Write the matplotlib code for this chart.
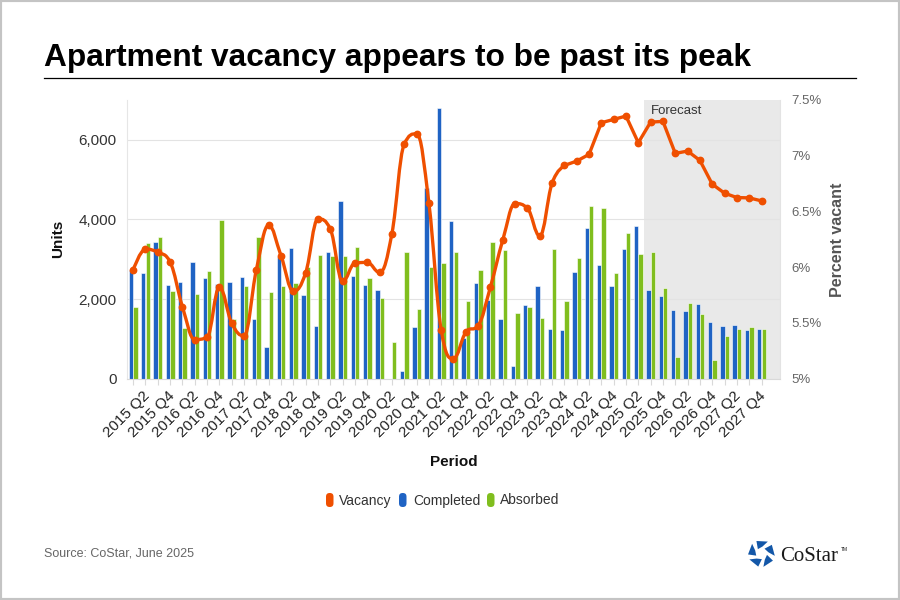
import numpy as np
import matplotlib
matplotlib.use("Agg")
import matplotlib.pyplot as plt
from matplotlib.path import Path
from matplotlib.patches import PathPatch, FancyBboxPatch, Polygon, Rectangle
from matplotlib.lines import Line2D
import matplotlib.transforms as mtransforms

plt.rcParams['font.family'] = ['Liberation Sans', 'DejaVu Sans']

# ---------------- data ----------------
periods = [f"{y} Q{q}" for y in range(2015, 2028) for q in range(1, 5)]

completed = [2730, 2660, 3440, 2350, 2440, 2930, 2540, 2390, 2430, 2560,
             1500, 790, 3060, 3280, 2100, 1330, 3180, 4460, 2580, 2350,
             2220, 0, 200, 1310, 4780, 6790, 3950, 1010, 2400, 1980,
             1490, 330, 1840, 2340, 1260, 1230, 2680, 3780, 2860, 2340,
             3260, 3830, 2220, 2080, 1720, 1700, 1870, 1420, 1330, 1340,
             1230, 1260]

absorbed = [1810, 3410, 3570, 2200, 1280, 2130, 2700, 3980, 1500, 2330,
            3570, 2170, 2330, 2400, 2800, 3110, 3090, 3070, 3300, 2530,
            2020, 930, 3190, 1740, 2800, 2900, 3190, 1960, 2730, 3430,
            3240, 1640, 1800, 1520, 3250, 1950, 3040, 4340, 4290, 2650,
            3650, 3130, 3180, 2280, 550, 1890, 1630, 480, 1060, 1260,
            1300, 1240]

vacancy = [5.975, 6.163, 6.133, 6.046, 5.645, 5.351, 5.372, 5.821, 5.498, 5.384,
           5.977, 6.376, 6.103, 5.785, 5.950, 6.433, 6.343, 5.872, 6.037, 6.043,
           5.953, 6.301, 7.104, 7.197, 6.577, 5.438, 5.180, 5.417, 5.477, 5.824,
           6.244, 6.571, 6.529, 6.280, 6.754, 6.913, 6.952, 7.012, 7.296, 7.326,
           7.356, 7.117, 7.302, 7.308, 7.021, 7.042, 6.958, 6.745, 6.664, 6.625,
           6.622, 6.595]

spline_end = 35          # smoothed section ends at this index
forecast_start = 42      # 2025 Q3

left_ticks = [0, 2000, 4000, 6000]
right_ticks = [5, 5.5, 6, 6.5, 7, 7.5]
right_labels = ["5%", "5.5%", "6%", "6.5%", "7%", "7.5%"]

ORANGE = "#EF4F00"
BLUE = "#1F63C4"
GREEN = "#80BE1E"

# ---------------- figure ----------------
W, H = 900, 600
fig = plt.figure(figsize=(9, 6), dpi=100)
fig.patch.set_facecolor("white")

def fx(px):
    return px / W

def fy(py):
    return 1 - py / H

L, R, T, B = 127, 780, 100, 378.7
ax = fig.add_axes([fx(L), fy(B), (R - L) / W, (B - T) / H])
n = len(periods)
x = np.arange(n)

ax.set_xlim(-0.5, n + 0.5)
ax.set_ylim(0, 7000)

ax.axvspan(forecast_start - 0.5, n + 0.5, color="#e9e9e9", zorder=0.1, lw=0)

bw = 0.355
ax.bar(x - 0.18, completed, width=bw, color=BLUE, edgecolor="white", linewidth=0.4, zorder=2)
ax.bar(x + 0.18, absorbed, width=bw, color=GREEN, edgecolor="white", linewidth=0.4, zorder=2)

ax.set_axisbelow(True)
ax.set_yticks(left_ticks)
ax.set_yticklabels([f"{v:,}" for v in left_ticks])
ax.grid(axis="y", color="#e3e3e3", lw=0.8)
ax.tick_params(axis="y", length=0, pad=7.5, labelsize=11, labelcolor="#333333")

ax.set_xticks(x)
ax.set_xticklabels([p if i % 2 == 1 else "" for i, p in enumerate(periods)],
                   rotation=45, ha="right", va="top", rotation_mode="anchor")
ax.tick_params(axis="x", length=4.5, width=0.8, color="#d9d9d9", pad=3.0,
               labelsize=11, labelcolor="#222222")
off = mtransforms.ScaledTranslation(-3 / 100, 0, fig.dpi_scale_trans)
for lab in ax.get_xticklabels():
    lab.set_transform(lab.get_transform() + off)

ax.spines["top"].set_visible(False)
ax.spines["left"].set_color("#e6e6e6")
ax.spines["left"].set_linewidth(0.8)
ax.spines["right"].set_color("#e3e3e3")
ax.spines["right"].set_linewidth(0.8)
ax.spines["bottom"].set_color("#d9d9d9")
ax.spines["bottom"].set_linewidth(0.8)

ax.set_ylabel("Units", fontsize=11, fontweight="bold", color="#111111", ha="center", va="center")
ax.yaxis.set_label_coords((58 - L) / (R - L), 0.5)
ax.set_xlabel("Period", fontsize=11, fontweight="bold", color="#111111", ha="center", va="center")
ax.xaxis.set_label_coords(0.5, (B - 462) / (B - T))

ax.text(forecast_start - 0.5, 1, "Forecast",
        transform=mtransforms.blended_transform_factory(ax.transData, ax.transAxes)
        + mtransforms.ScaledTranslation(6 / 100, -5 / 100, fig.dpi_scale_trans),
        ha="left", va="top", fontsize=9.5, color="#333333", zorder=3)

# ---------------- vacancy line ----------------
ax2 = ax.twinx()
ax2.set_ylim(5, 7.5)
ax2.set_yticks(right_ticks)
ax2.set_yticklabels(right_labels)
ax2.tick_params(axis="y", length=0, pad=8, labelsize=9.5, labelcolor="#666666")
for s in ax2.spines.values():
    s.set_visible(False)
ax2.set_ylabel("Percent vacant", fontsize=11.5, fontweight="bold", color="#555555",
               ha="center", va="center", rotation=90)
ax2.yaxis.set_label_coords((838 - L) / (R - L), 0.5)

# Highcharts-style spline (control points in data space; the scheme is affine-invariant)
sp_x = [float(i) for i in range(spline_end + 1)]
sp_y = list(vacancy[:spline_end + 1])
smoothing = 1.5
denom = smoothing + 1
m = len(sp_x)
lc = [None] * m
rc = [None] * m
for i in range(1, m - 1):
    px, py = sp_x[i], sp_y[i]
    lx, ly = sp_x[i - 1], sp_y[i - 1]
    nx, ny = sp_x[i + 1], sp_y[i + 1]
    lcx = (smoothing * px + lx) / denom
    lcy = (smoothing * py + ly) / denom
    rcx = (smoothing * px + nx) / denom
    rcy = (smoothing * py + ny) / denom
    corr = 0.0
    if rcx != lcx:
        corr = (rcy - lcy) * (rcx - px) / (rcx - lcx) + py - rcy
    lcy += corr
    rcy += corr
    if lcy > ly and lcy > py:
        lcy = max(ly, py)
        rcy = 2 * py - lcy
    elif lcy < ly and lcy < py:
        lcy = min(ly, py)
        rcy = 2 * py - lcy
    if rcy > ny and rcy > py:
        rcy = max(ny, py)
        lcy = 2 * py - rcy
    elif rcy < ny and rcy < py:
        rcy = min(ny, py)
        lcy = 2 * py - rcy
    lc[i] = (lcx, lcy)
    rc[i] = (rcx, rcy)

verts = [(sp_x[0], sp_y[0])]
codes = [Path.MOVETO]
for i in range(1, m):
    c1 = rc[i - 1] if rc[i - 1] is not None else (sp_x[i - 1], sp_y[i - 1])
    c2 = lc[i] if lc[i] is not None else (sp_x[i], sp_y[i])
    verts += [c1, c2, (sp_x[i], sp_y[i])]
    codes += [Path.CURVE4] * 3

lw_line = 2.4
ax2.add_patch(PathPatch(Path(verts, codes), fill=False, edgecolor=ORANGE, lw=lw_line,
                        capstyle="round", joinstyle="round", zorder=4))
ax2.plot(x[spline_end:], vacancy[spline_end:], color=ORANGE, lw=lw_line,
         solid_joinstyle="round", solid_capstyle="round", zorder=4)
ax2.plot(x, vacancy, "o", color=ORANGE, markersize=4.6, zorder=5)
ax2.set_xlim(-0.5, n + 0.5)

# ---------------- title, legend, source ----------------
fig.text(fx(44), fy(65.7), "Apartment vacancy appears to be past its peak",
         fontsize=22.8, fontweight="bold", color="black", ha="left", va="baseline")
fig.add_artist(Line2D([fx(44), fx(856)], [fy(78.3), fy(78.3)], color="black", lw=0.9))

leg = [("Vacancy", ORANGE, 326, 339.4), ("Completed", BLUE, 399, 412.9), ("Absorbed", GREEN, 487, 500.2)]
for name, col, mx, tx in leg:
    fig.add_artist(FancyBboxPatch((fx(mx), fy(507)), 7.5 / W, 14 / H,
                                  boxstyle="round,pad=0,rounding_size=0.004",
                                  transform=fig.transFigure, facecolor=col, edgecolor="none",
                                  mutation_aspect=W / H))
    fig.text(fx(tx), fy(500.5), name, fontsize=10, color="#333333", ha="left", va="center")

fig.text(fx(44), fy(557), "Source: CoStar, June 2025", fontsize=9, color="#666666",
         ha="left", va="baseline")

# logo
lax = fig.add_axes([fx(748), fy(567), 27 / W, 27 / H])
lax.set_xlim(-1, 1)
lax.set_ylim(-1, 1)
lax.set_aspect("equal")
lax.axis("off")
for k in range(5):
    th = np.deg2rad(90 + 72 * k)
    def pol(r, d):
        a = th + np.deg2rad(d)
        return (r * np.cos(a), r * np.sin(a))
    poly = [pol(1.0, -28), pol(1.0, 22), pol(0.42, 40), pol(0.52, -8)]
    lax.add_patch(Polygon(poly, closed=True, facecolor="#1357A8", edgecolor="none"))
fig.text(fx(780), fy(561), "CoStar", family=["Liberation Serif", "DejaVu Serif"],
         fontsize=15, color="#1a1a1a", ha="left", va="baseline")
fig.text(fx(840.5), fy(551), "TM", fontsize=3.5, color="#1a1a1a", ha="left", va="baseline")

# outer border
fig.add_artist(Rectangle((0, 0), 1, 1, transform=fig.transFigure, fill=False,
                         edgecolor="#c4c4c4", lw=3))

fig.savefig("out.png", dpi=100)
